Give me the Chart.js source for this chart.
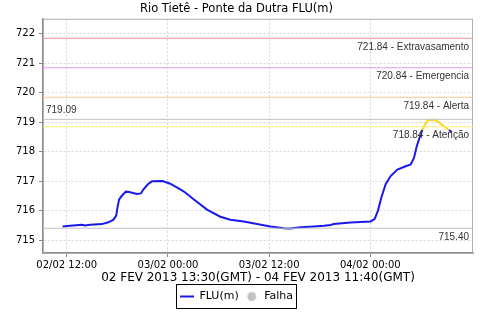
<!DOCTYPE html>
<html>
<head>
<meta charset="utf-8">
<script src="https://cdn.jsdelivr.net/npm/chart.js@4/dist/chart.umd.min.js"></script>
<style>
  html, body { margin: 0; padding: 0; background: #fff; }
  #wrap { width: 480px; height: 320px; }
</style>
</head>
<body>
<div id="wrap"><canvas id="levelChart" width="480" height="320"></canvas></div>
<script>
// hours counted from 02/02 00:00 (local time)
var hours = [11.5, 12.39, 13.78, 14.17, 14.77, 16.16, 16.94, 17.54, 17.86, 18.01, 18.21, 18.53, 19.01, 19.40,
  20.32, 20.79, 21.10, 21.62, 22.10, 23.36, 24.27, 25.46, 26.05, 27.04, 28.63, 30.21, 31.40, 32.98, 34.57,
  36.15, 37.73, 38.53, 39.72, 41.30, 42.49, 43.28, 43.68, 45.66, 48.04, 48.51, 48.90, 49.31, 49.82, 50.41,
  51.21, 52.19, 52.79, 53.18, 53.50, 53.89, 54.18, 54.45, 54.84, 55.56, 56.15, 56.74, 57.34, 57.67];
var levels = [715.46, 715.48, 715.52, 715.49, 715.52, 715.54, 715.60, 715.69, 715.83, 716.10, 716.38, 716.50, 716.64, 716.63,
  716.56, 716.58, 716.72, 716.89, 716.99, 717.00, 716.91, 716.72, 716.61, 716.38, 716.03, 715.79, 715.69, 715.63, 715.54,
  715.46, 715.40, 715.39, 715.43, 715.46, 715.48, 715.51, 715.54, 715.59, 715.63, 715.71, 715.99, 716.44, 716.89, 717.17,
  717.39, 717.50, 717.56, 717.78, 718.17, 718.51, 718.73, 718.90, 719.07, 719.08, 718.99, 718.85, 718.73, 718.65];

var tickHours = [12, 24, 36, 48];
var tickLabels = ['02/02 12:00', '03/02 00:00', '03/02 12:00', '04/02 00:00'];

var thresholdValues = [721.84, 720.84, 719.84, 718.84];
var thresholdNames = ['Extravasamento', 'Emergencia', 'Alerta', 'Atenção'];
var thresholdColors = ['rgb(240,150,150)', 'rgb(230,150,235)', 'rgb(250,200,150)', 'rgb(255,240,120)'];

var maxLevel = 719.09;
var minLevel = 715.40;

var xMin = 9.18, xMax = 60.18;
var blue = 'rgb(25,25,235)';
var gold = 'rgb(250,215,30)';

function flatLine(v) {
    return [{x: xMin, y: v}, {x: xMax, y: v}];
}

var datasets = [];
thresholdValues.forEach(function (v, i) {
    datasets.push({label: thresholdNames[i], data: flatLine(v), borderColor: thresholdColors[i], borderWidth: 1, pointRadius: 0});
});
datasets.push({label: 'max', data: flatLine(maxLevel), borderColor: 'rgb(195,195,195)', borderWidth: 1, pointRadius: 0});
datasets.push({label: 'min', data: flatLine(minLevel), borderColor: 'rgb(195,195,195)', borderWidth: 1, pointRadius: 0});
datasets.push({
    label: 'FLU(m)',
    data: hours.map(function (h, i) { return {x: h, y: levels[i]}; }),
    borderColor: blue,
    borderWidth: 2,
    pointRadius: 0,
    tension: 0,
    segment: {
        borderColor: function (c) {
            return Math.max(c.p0.parsed.y, c.p1.parsed.y) > thresholdValues[3] ? gold : undefined;
        }
    }
});

function marker(kind) {
    var c = document.createElement('canvas');
    c.width = 14; c.height = 12;
    var g = c.getContext('2d');
    if (kind === 'line') {
        g.strokeStyle = blue; g.lineWidth = 2;
        g.beginPath(); g.moveTo(0, 6); g.lineTo(14, 6); g.stroke();
    } else {
        g.fillStyle = 'rgb(195,195,195)';
        g.beginPath(); g.arc(7, 6, 4.5, 0, Math.PI * 2); g.fill();
    }
    return c;
}

var labelPlugin = {
    id: 'levelLabels',
    beforeDatasetsDraw: function (chart) {
        var a = chart.chartArea, ctx = chart.ctx;
        ctx.save();
        ctx.strokeStyle = 'rgb(175,175,175)';
        ctx.lineWidth = 1;
        ctx.strokeRect(a.left + 0.5, a.top + 0.5, a.right - a.left - 1, a.bottom - a.top);
        ctx.restore();
    },
    afterDatasetsDraw: function (chart) {
        var y = chart.scales.y, a = chart.chartArea, ctx = chart.ctx;
        ctx.save();
        ctx.font = '10px "Liberation Sans"';
        ctx.fillStyle = '#333';
        ctx.textBaseline = 'middle';
        ctx.textAlign = 'right';
        thresholdValues.forEach(function (v, i) {
            ctx.fillText(v.toFixed(2) + ' - ' + thresholdNames[i], a.right - 4, y.getPixelForValue(v) + 8.5);
        });
        ctx.fillText(minLevel.toFixed(2), a.right - 4, y.getPixelForValue(minLevel) + 9);
        ctx.textAlign = 'left';
        ctx.fillText(maxLevel.toFixed(2), a.left + 3, y.getPixelForValue(maxLevel) - 9);
        ctx.restore();
    },
    afterDraw: function (chart) {
        var boxes = chart.legend.legendHitBoxes, ctx = chart.ctx;
        if (!boxes || !boxes.length) return;
        var l = Math.min.apply(null, boxes.map(function (b) { return b.left; }));
        var r = Math.max.apply(null, boxes.map(function (b) { return b.left + b.width; }));
        var t = boxes[0].top;
        ctx.save();
        ctx.strokeStyle = '#000';
        ctx.lineWidth = 1;
        ctx.strokeRect(Math.round(l) - 3.5, Math.round(t) - 6.5, Math.round(r - l) + 7, 24);
        ctx.restore();
    }
};

var ctx = document.getElementById('levelChart').getContext('2d');
var levelChart = new Chart(ctx, {
    type: 'line',
    data: {datasets: datasets},
    plugins: [labelPlugin],
    options: {
        responsive: false,
        animation: false,
        layout: {padding: {left: 0, right: 7, top: 0, bottom: 8}},
        plugins: {
            title: {
                display: true,
                text: 'Rio Tietê - Ponte da Dutra FLU(m)',
                color: '#000',
                font: {family: 'DejaVu Sans', size: 11.5, weight: 'normal'},
                padding: {top: 2, bottom: 3}
            },
            legend: {
                position: 'bottom',
                labels: {
                    usePointStyle: true,
                    pointStyleWidth: 14,
                    padding: 6,
                    color: '#000',
                    font: {family: 'DejaVu Sans', size: 11},
                    generateLabels: function () {
                        return [
                            {text: 'FLU(m)', pointStyle: marker('line'), fillStyle: blue, strokeStyle: blue, lineWidth: 0, hidden: false, datasetIndex: 6},
                            {text: 'Falha', pointStyle: marker('dot'), fillStyle: '#c3c3c3', strokeStyle: '#c3c3c3', lineWidth: 0, hidden: false}
                        ];
                    }
                }
            },
            tooltip: {enabled: false}
        },
        scales: {
            x: {
                type: 'linear',
                min: xMin,
                max: xMax,
                afterFit: function (s) { s.height = 32; },
                afterBuildTicks: function (s) {
                    s.ticks = tickHours.map(function (h) { return {value: h}; });
                },
                ticks: {
                    autoSkip: false,
                    maxRotation: 0,
                    padding: 2,
                    color: '#000',
                    font: {family: 'DejaVu Sans', size: 10},
                    callback: function (v) {
                        var i = tickHours.indexOf(v);
                        return i >= 0 ? tickLabels[i] : '';
                    }
                },
                grid: {color: 'rgb(215,215,215)', tickColor: '#888', tickLength: 4},
                border: {color: 'rgb(140,140,140)', width: 1.5, dash: [2, 2]},
                title: {
                    display: true,
                    text: '02 FEV 2013 13:30(GMT) - 04 FEV 2013 11:40(GMT)',
                    color: '#000',
                    font: {family: 'DejaVu Sans', size: 12},
                    padding: {top: 0, bottom: 0}
                }
            },
            y: {
                min: 714.56,
                max: 722.5,
                afterFit: function (s) { s.width = 43; },
                afterBuildTicks: function (s) {
                    s.ticks = s.ticks.filter(function (t) { return Number.isInteger(t.value); });
                },
                ticks: {
                    stepSize: 1,
                    padding: 4,
                    color: '#000',
                    font: {family: 'DejaVu Sans', size: 10}
                },
                grid: {color: 'rgb(215,215,215)', tickColor: '#888', tickLength: 4},
                border: {color: 'rgb(140,140,140)', width: 1.5, dash: [2, 2]}
            }
        }
    }
});
</script>
</body>
</html>
